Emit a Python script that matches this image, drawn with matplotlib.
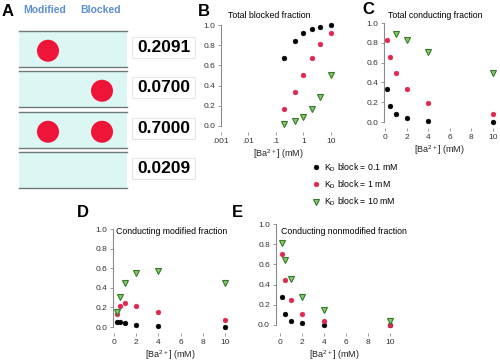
import numpy as np
import matplotlib
matplotlib.use("Agg")
import matplotlib.pyplot as plt
from matplotlib.patches import Rectangle, Circle
from matplotlib.lines import Line2D

plt.rcParams['font.family'] = ['Liberation Sans', 'DejaVu Sans']
plt.rcParams['mathtext.fontset'] = 'custom'
plt.rcParams['mathtext.rm'] = 'Liberation Sans'

# ---------------- data ----------------
state_modified = [True, False, True, False]
state_blocked = [False, True, True, False]
state_prob = ["0.2091", "0.0700", "0.7000", "0.0209"]

conc = [0.2, 0.5, 1, 2, 4, 10]
kd_labels = [r"K$_\mathrm{D}$ block = 0.1 mM",
             r"K$_\mathrm{D}$ block = 1 mM",
             r"K$_\mathrm{D}$ block = 10 mM"]

blocked_kd01 = [0.67, 0.84, 0.92, 0.96, 0.98, 1.00]
blocked_kd1 = [0.17, 0.34, 0.50, 0.67, 0.81, 0.92]
blocked_kd10 = [0.02, 0.05, 0.09, 0.17, 0.29, 0.50]

conduct_kd01 = [0.33, 0.16, 0.08, 0.04, 0.01, 0.00]
conduct_kd1 = [0.83, 0.66, 0.50, 0.33, 0.19, 0.08]
conduct_kd10 = [np.nan, np.nan, 0.89, 0.83, 0.71, 0.50]

mod_kd01 = [0.05, 0.05, 0.04, 0.02, 0.01, 0.00]
mod_kd1 = [0.13, 0.22, 0.25, 0.22, 0.15, 0.07]
mod_kd10 = [0.15, 0.31, 0.45, 0.55, 0.57, 0.45]

nonmod_kd01 = [0.28, 0.11, 0.04, 0.02, 0.00, 0.00]
nonmod_kd1 = [0.70, 0.45, 0.25, 0.11, 0.04, 0.00]
nonmod_kd10 = [0.81, 0.64, 0.46, 0.28, 0.15, 0.04]

log_ticks = [0.001, 0.01, 0.1, 1, 10]
log_ticklabels = [".001", ".01", ".1", "1", "10"]
lin_ticks = [0, 2, 4, 6, 8, 10]
y_ticks = [0.0, 0.2, 0.4, 0.6, 0.8, 1.0]

# ---------------- style ----------------
W, H = 500, 364
fig = plt.figure(figsize=(W / 100, H / 100), dpi=100)

styles = [
    dict(marker='o', ms=3.5, mfc='black', mec='black', mew=0.3),
    dict(marker='o', ms=3.5, mfc='#e0264f', mec='#e0264f', mew=0.3),
    dict(marker='v', ms=3.8, mfc='#8fc46a', mec='#2f7d2a', mew=0.8),
]

def px_axes(left, top, width, height):
    return fig.add_axes([left / W, 1 - (top + height) / H, width / W, height / H])

def style_axes(ax):
    for s in ('top', 'right', 'bottom'):
        ax.spines[s].set_visible(False)
    ax.spines['left'].set_color('#8a8a8a')
    ax.spines['left'].set_linewidth(0.8)
    ax.spines['left'].set_bounds(0, 1.0)
    ax.tick_params(length=2, width=0.6, color='#8a8a8a', labelsize=6,
                   labelcolor='#333333', pad=2)
    ax.set_yticks(y_ticks)
    ax.set_yticklabels([f"{v:.1f}" for v in y_ticks])
    ax.set_xlabel(r"[Ba$^{2+}$] (mM)", fontsize=6.5, labelpad=2, color='#222222')
    ax.patch.set_alpha(0)

def plot_series(ax, series):
    for vals, st in zip(series, styles):
        ax.plot(conc, vals, ls='none', clip_on=False, **st)

# ---------------- panel A ----------------
ax0 = fig.add_axes([0, 0, 1, 1])
ax0.set_xlim(0, W)
ax0.set_ylim(H, 0)
ax0.axis('off')
ax0.text(2, 11, "A", fontsize=12, fontweight='bold', va='center', ha='left')
ax0.text(45, 10, "Modified", fontsize=7.5, fontweight='bold', color='#5b8ed2',
         ha='center', va='center')
ax0.text(101, 10, "Blocked", fontsize=7.5, fontweight='bold', color='#5b8ed2',
         ha='center', va='center')
row_tops = [31, 71, 112, 152]
row_h = 35.5
for i, top in enumerate(row_tops):
    ax0.add_patch(Rectangle((19, top), 108, row_h, facecolor='#dcf6f4',
                            edgecolor='none'))
    ax0.plot([19, 127], [top, top], color='#6f7a7a', lw=1.0)
    ax0.plot([19, 127], [top + row_h, top + row_h], color='#6f7a7a', lw=1.0)
    cy = top + row_h / 2 + 2
    if state_modified[i]:
        ax0.add_patch(Circle((48, cy), 11, facecolor='#ee1538', edgecolor='none'))
    if state_blocked[i]:
        ax0.add_patch(Circle((102, cy), 11, facecolor='#ee1538', edgecolor='none'))
    ax0.add_patch(Rectangle((132, top + 6), 63, 21, facecolor='white',
                            edgecolor='#e6e6e6', lw=0.8))
    ax0.text(163.5, top + 16.5, state_prob[i], fontsize=12.5, fontweight='bold',
             ha='center', va='center')

# ---------------- panel B ----------------
axB = px_axes(221, 25, 114, 107)
axB.set_xscale('log')
axB.set_xlim(0.001, 14)
axB.set_ylim(-0.06, 1.0)
style_axes(axB)
axB.set_xticks(log_ticks)
axB.set_xticklabels(log_ticklabels)
axB.xaxis.set_minor_locator(matplotlib.ticker.NullLocator())
plot_series(axB, [blocked_kd01, blocked_kd1, blocked_kd10])
fig.text(198 / W, 1 - 11 / H, "B", fontsize=12, fontweight='bold', va='center')
fig.text(228 / W, 1 - 15 / H, "Total blocked fraction", fontsize=6.3, va='center')

# ---------------- panel C ----------------
axC = px_axes(384, 23, 111, 105)
axC.set_xlim(-0.1, 10.2)
axC.set_ylim(-0.06, 1.0)
style_axes(axC)
axC.set_xticks(lin_ticks)
plot_series(axC, [conduct_kd01, conduct_kd1, conduct_kd10])
fig.text(362 / W, 1 - 10 / H, "C", fontsize=12, fontweight='bold', va='center')
fig.text(388 / W, 1 - 15 / H, "Total conducting fraction", fontsize=6.3, va='center')

# ---------------- legend ----------------
handles = [Line2D([], [], ls='none', **st) for st in styles]
fig.legend(handles, kd_labels, loc='upper left',
           bbox_to_anchor=(312 / W, 1 - 161 / H), frameon=False, fontsize=6.3,
           handlelength=0.8, handletextpad=0.6, labelspacing=0.55,
           borderaxespad=0, borderpad=0)

# ---------------- panel D ----------------
axD = px_axes(113, 229, 115, 104)
axD.set_xlim(-0.12, 10.3)
axD.set_ylim(-0.06, 1.0)
style_axes(axD)
axD.set_xticks(lin_ticks)
plot_series(axD, [mod_kd01, mod_kd1, mod_kd10])
fig.text(77 / W, 1 - 212 / H, "D", fontsize=12, fontweight='bold', va='center')
fig.text(116 / W, 1 - 232 / H, "Conducting modified fraction", fontsize=6.3,
         va='center')

# ---------------- panel E ----------------
axE = px_axes(275.5, 224, 117, 109)
axE.set_xlim(-0.4, 10.25)
axE.set_ylim(-0.08, 1.0)
style_axes(axE)
axE.set_xticks(lin_ticks)
plot_series(axE, [nonmod_kd01, nonmod_kd1, nonmod_kd10])
fig.text(232 / W, 1 - 212 / H, "E", fontsize=12, fontweight='bold', va='center')
fig.text(281 / W, 1 - 232 / H, "Conducting nonmodified fraction", fontsize=6.3,
         va='center')

fig.savefig("out.png", dpi=100)
